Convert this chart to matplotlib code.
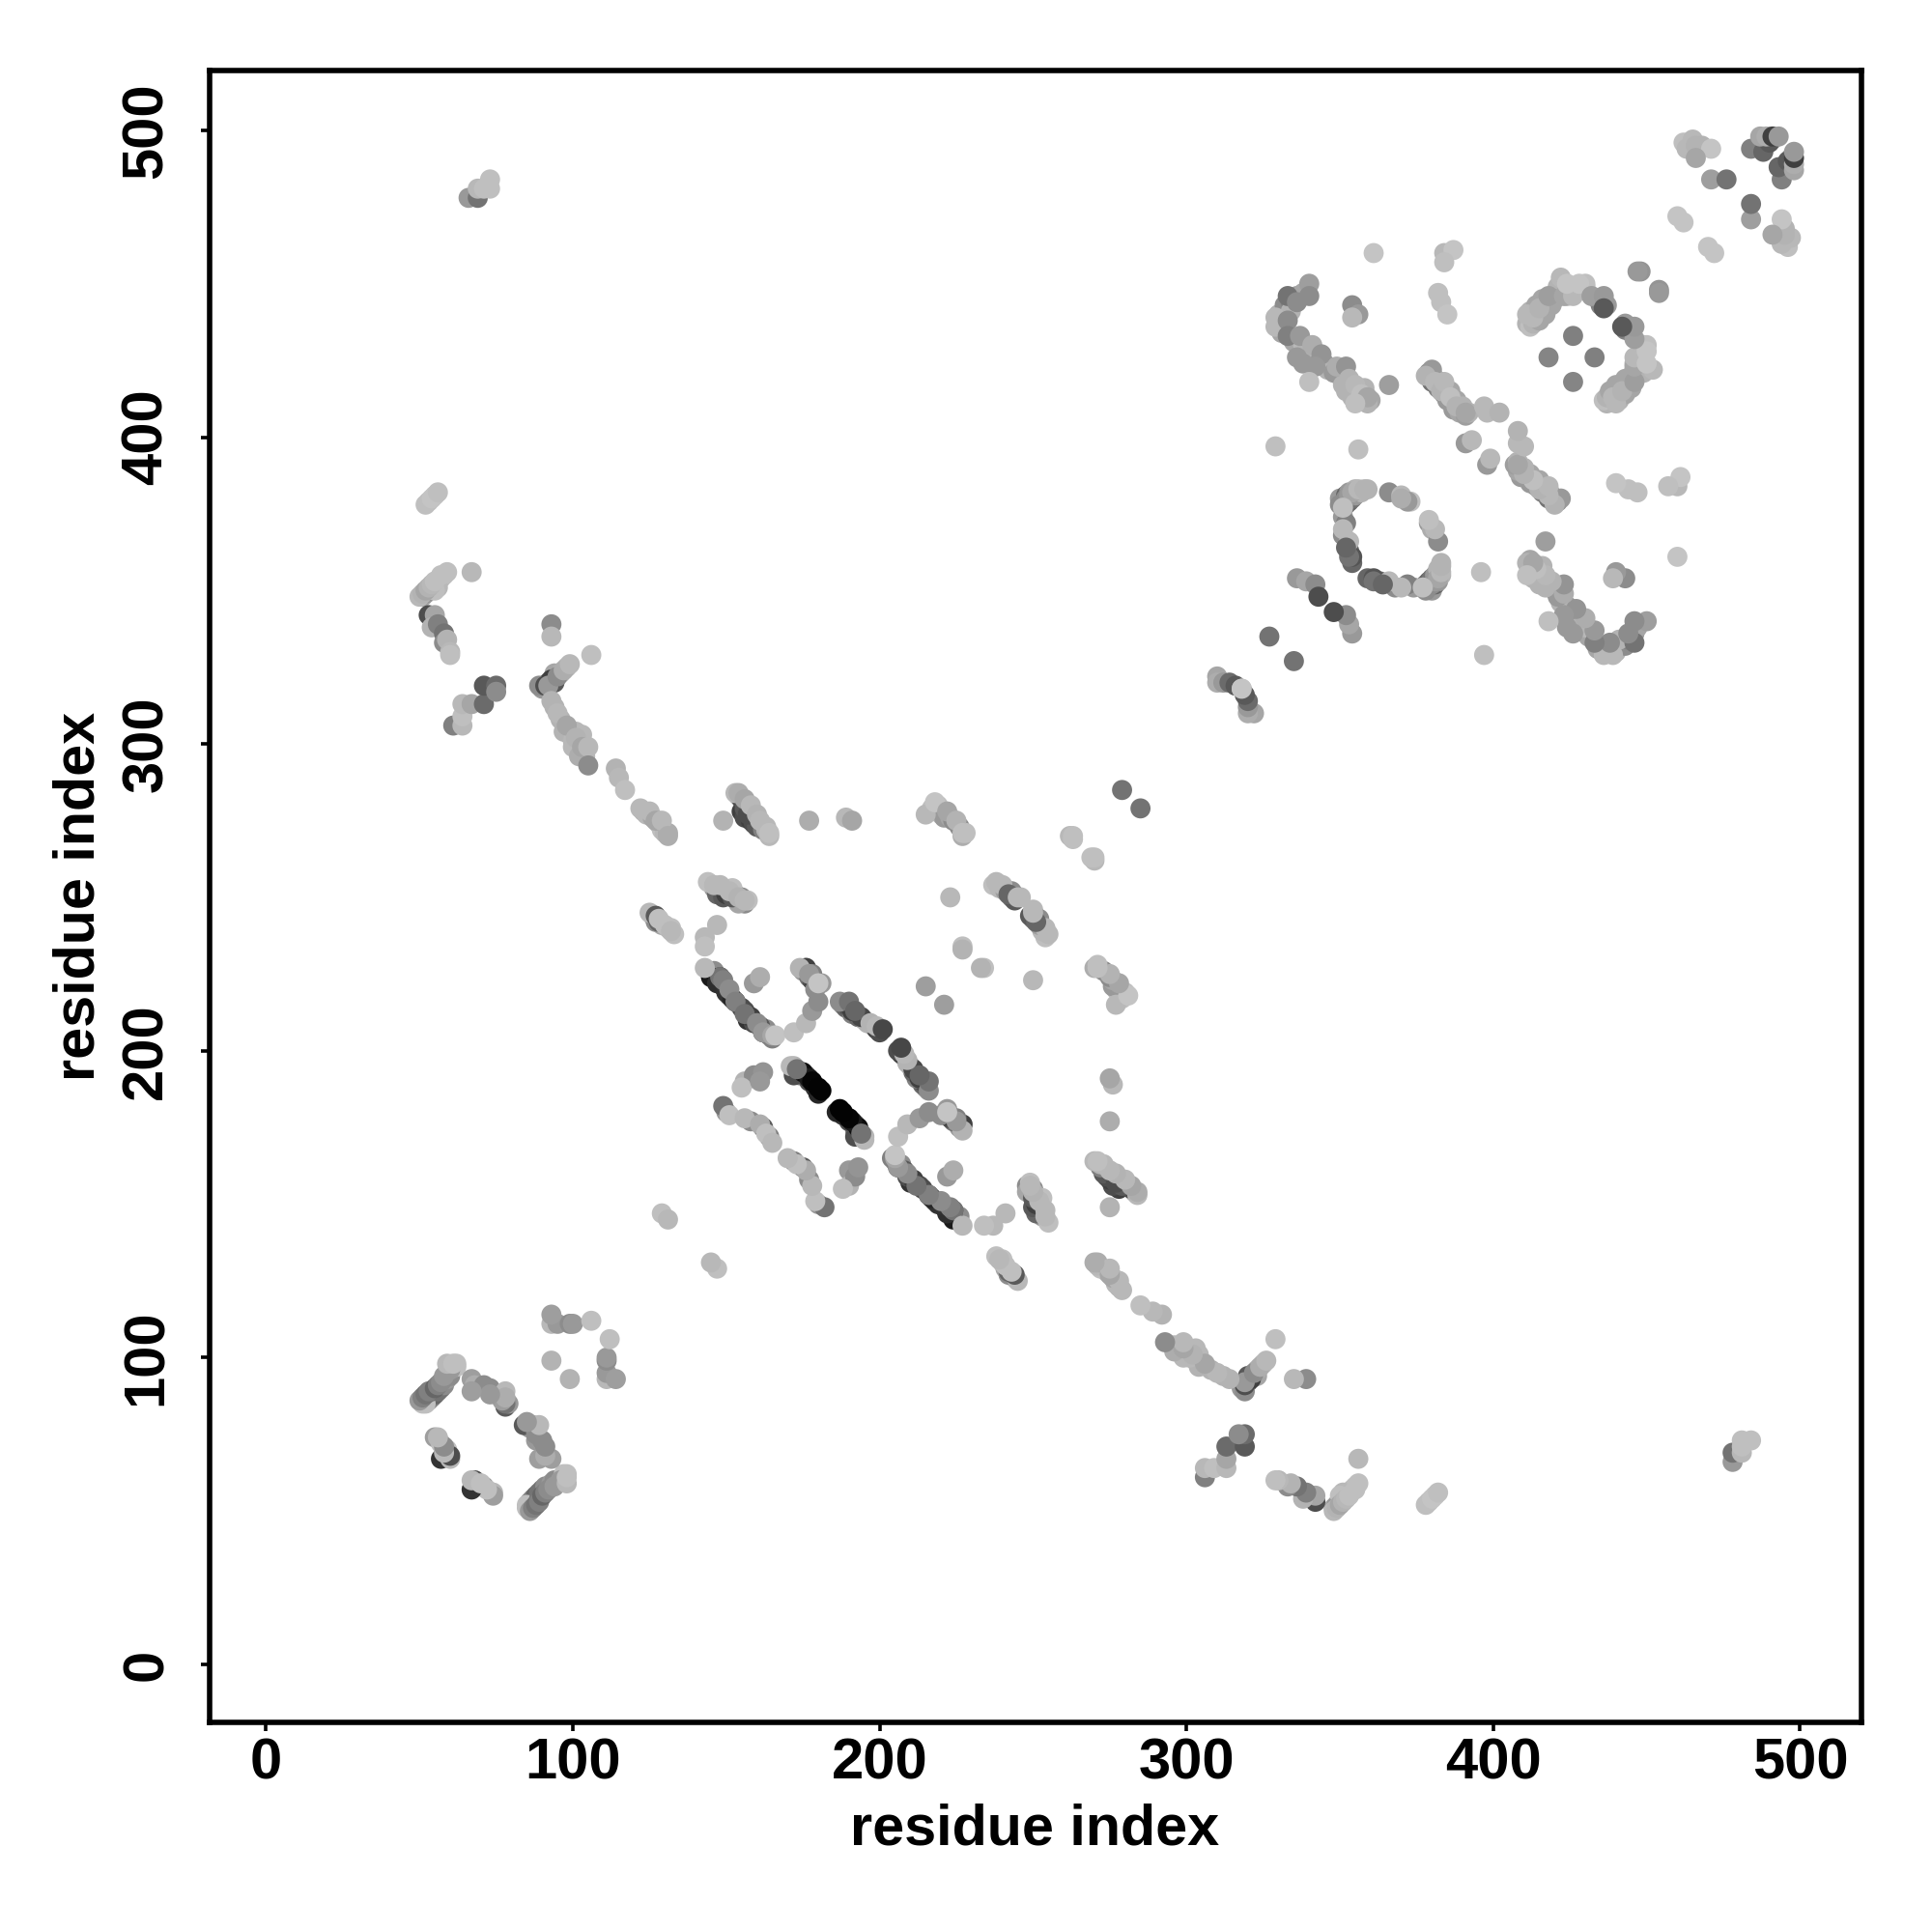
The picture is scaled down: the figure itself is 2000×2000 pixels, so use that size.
import numpy as np
import matplotlib
matplotlib.use("Agg")
import matplotlib.pyplot as plt

plt.rcParams['font.family'] = ['Liberation Sans', 'DejaVu Sans']

# contact pairs, one half only (the map is symmetric)
# rows line up between the three lists; rows drawn first end up underneath
res_a = [
    146, 148, 149, 151, 153, 156, 157, 159, 162, 164, 163, 165,
    175, 176, 177, 178, 179, 179, 181,
    188, 189, 190, 191, 193, 195, 196, 198, 199, 200,
    172, 173, 174, 176, 177, 178, 179, 180, 172,
    150, 158, 162, 164,
    154, 155, 156, 158, 159, 160, 162, 163, 164,
    217, 219, 220, 221, 223, 224, 226, 227, 228,
    237, 239, 241, 243, 244, 246, 243,
    146, 147, 149, 150, 153, 155, 156, 154, 157, 152,
    126, 127, 129, 131, 133, 128, 132,
    123, 124, 126, 128, 129, 130, 131,
    90, 92, 94, 94, 96, 98, 96, 94, 97, 99, 100, 103, 101, 104, 100,
    51, 53, 54, 55, 56, 57, 58, 59, 60, 60, 62, 62,
    51, 52, 53, 54, 55, 56, 57, 58, 56, 55,
    350, 351, 352, 352, 353, 353, 354, 355, 355, 357, 359, 351, 352, 351, 353, 354,
    330, 331, 332, 334, 336, 338, 334, 331, 335, 338, 339, 338,
    343, 345, 346, 348, 350, 351, 352, 354, 356, 358, 358, 360,
    379, 380, 381, 382, 383, 384, 385, 386, 387, 388, 389, 390, 391, 392,
    412, 414, 416, 420, 421, 425, 430, 434, 435, 437, 412, 414,
    411, 412, 413, 415, 417, 419, 420, 424, 427, 430,
    52, 50, 51, 52, 54, 53, 55, 56, 57, 58, 60, 59, 61,
    78, 67, 68, 71, 73, 75, 78, 79,
    55, 57, 57, 60, 59,
    68, 69, 71, 74,
    85, 86, 87, 88, 89, 93, 93, 95, 99, 100, 106, 93,
    66, 69, 69, 71, 73, 73,
    52, 53, 54, 55, 56,
    53, 55, 50, 51, 52, 53, 54, 55, 57, 59, 67, 54, 56, 58, 58, 59, 60, 60,
    61, 64, 64, 64, 67, 71, 71, 75, 75,
    93, 93, 106,
    89, 91, 93, 92, 95, 97, 99, 93, 95, 98, 101, 102, 103, 105, 105,
    114, 115, 117, 122, 125, 127, 129, 131,
    149, 155, 156, 157, 153, 154, 156, 158, 160, 161, 163, 164,
    177, 189, 191,
    215, 218, 222, 225, 227,
    262, 263, 263, 279,
    150, 152, 144, 146, 148, 151, 154, 156,
    125, 127, 128, 130, 132,
    147, 143, 143,
    238, 240, 242, 245,
    223, 227, 227, 215,
    145, 147, 150, 152, 155, 158, 161,
    148, 149, 151, 153, 156, 160, 162, 165, 143, 166,
    159, 161,
    172, 176, 178, 180,
    176, 178, 174, 177, 180,
    191, 194, 187, 190, 192, 197, 199, 201,
    175, 177, 178, 180, 181, 171, 173,
    156, 159, 162, 155,
    149, 151, 156, 161, 163, 165,
    129, 131, 190,
    310, 310, 312, 314, 316, 318,
    327,
    336, 339, 342, 343,
    351, 350, 352, 353, 354, 356, 358, 351, 354, 353, 353, 352,
    366, 370, 373, 379, 380,
    380, 378, 381, 383, 384, 386, 388, 391, 397, 398, 402, 391, 393,
    333, 336, 340, 329, 329, 333, 333, 337, 340, 341, 344, 336, 342, 340,
    349, 352, 353, 355, 357, 359, 359, 355,
    354, 356, 354, 361, 384, 387, 384, 382, 383, 385, 366, 329, 356,
    411, 413, 415, 418, 422, 423, 426, 424, 428, 432, 436, 436,
    426, 418,
    448, 447, 460, 462,
    462, 463, 465, 466, 468, 471, 466, 471, 476,
    484, 488, 491, 490, 487, 489, 491, 493,
]
res_b = [
    226, 224, 221, 218, 216, 213, 210, 209, 206, 205, 207, 204,
    226, 227, 224, 223, 222, 220, 222,
    215, 214, 214, 212, 211, 210, 209, 208, 207, 206,
    195, 193, 192, 192, 190, 190, 188, 186, 192,
    180, 177, 175, 172,
    283, 278, 276, 275, 274, 273, 272, 272, 270,
    279, 280, 277, 276, 276, 275, 273, 270, 271,
    254, 253, 252, 250, 249, 250, 252,
    253, 251, 250, 252, 251, 250, 248, 248, 249, 253,
    244, 242, 241, 240, 238, 242, 240,
    278, 277, 276, 274, 272, 271, 271,
    318, 320, 320, 323, 323, 325, 308, 312, 304, 303, 301, 303, 304, 296, 299,
    85, 86, 87, 88, 89, 90, 91, 93, 94, 97, 97, 98,
    348, 349, 350, 351, 352, 353, 354, 355, 351, 350,
    380, 378, 378, 381, 379, 382, 380, 381, 383, 382, 383, 374, 372, 368, 363, 359,
    440, 437, 443, 444, 446, 447, 441, 434, 431, 430, 428, 424,
    424, 424, 422, 421, 420, 417, 415, 413, 415, 412, 416, 412,
    421, 418, 419, 416, 418, 414, 412, 415, 409, 412, 408, 410, 407, 408,
    441, 443, 445, 446, 449, 448, 449, 445, 443, 443, 439, 440,
    437, 436, 437, 438, 440, 443, 445, 446, 448, 450,
    85, 86, 87, 88, 89, 89, 90, 91, 92, 94, 96, 98, 98,
    84, 93, 91, 91, 90, 88, 89, 85,
    74, 72, 67, 67, 70,
    60, 58, 58, 56,
    78, 77, 78, 73, 67, 99, 111, 111, 111, 111, 112, 114,
    478, 478, 481, 481, 481, 484,
    378, 379, 380, 381, 382,
    342, 342, 348, 349, 350, 351, 352, 353, 355, 356, 356, 338, 339, 336, 333, 334, 330, 329,
    306, 306, 309, 313, 313, 313, 319, 319, 317,
    339, 335, 329,
    319, 319, 321, 319, 322, 324, 326, 314, 310, 306, 302, 296, 299, 299, 293,
    292, 289, 285, 279, 278, 275, 275, 270,
    275, 282, 279, 277, 284, 284, 282, 280, 277, 275, 273, 271,
    275, 276, 275,
    277, 281, 278, 275, 271,
    270, 269, 270, 285,
    251, 250, 255, 254, 254, 252, 250, 249,
    245, 244, 243, 241, 239,
    241, 237, 234,
    255, 254, 251, 250,
    250, 234, 233, 221,
    224, 222, 219, 217, 214, 211, 208,
    224, 223, 220, 216, 212, 209, 206, 205, 227, 205,
    222, 224,
    206, 209, 213, 216,
    227, 225, 227, 225, 222,
    213, 211, 216, 216, 213, 209, 208, 207,
    193, 191, 190, 188, 187, 195, 194,
    190, 192, 193, 188,
    182, 179, 178, 176, 173, 170,
    147, 145, 161,
    322, 320, 320, 320, 319, 318,
    335,
    354, 353, 352, 348,
    370, 378, 380, 381, 382, 383, 383, 377, 361, 361, 366, 364,
    382, 381, 379, 372, 370,
    422, 420, 418, 415, 418, 413, 410, 408, 410, 408, 408, 398, 399,
    446, 444, 450, 439, 436, 438, 433, 433, 446, 430, 427, 426, 423, 418,
    423, 423, 419, 417, 414, 411, 413, 411,
    443, 440, 439, 460, 460, 461, 457, 447, 444, 440, 417, 397, 396,
    440, 439, 442, 446, 452, 446, 446, 450, 450, 446, 446, 442,
    433, 426,
    454, 454, 472, 470,
    496, 494, 497, 495, 495, 494, 491, 484, 484,
    494, 493, 497, 496, 498, 498, 498, 498,
]
grey = [
    .55, .3, .1, .2, .1, .3, .2, .3, .3, .4, .55, .5,
    .6, .7, .45, .3, .2, .55, .6,
    .55, .4, .3, .5, .4, .65, .7, .7, .25, .3,
    .7, .4, .5, .35, .3, .3, .2, .15, .3,
    .6, .55, .35, .5,
    .72, .25, .3, .25, .3, .35, .5, .7, .72,
    .75, .75, .72, .6, .65, .55, .55, .68, .75,
    .75, .72, .62, .45, .35, .72, .55,
    .6, .4, .35, .72, .7, .55, .55, .65, .75, .75,
    .72, .55, .65, .72, .75, .4, .75,
    .7, .72, .65, .72, .75, .72, .68,
    .6, .3, .35, .65, .7, .72, .7, .7, .7, .7, .72, .72, .72, .72, .72,
    .75, .6, .5, .4, .45, .45, .55, .6, .55, .72, .75, .75,
    .65, .6, .5, .6, .65, .7, .72, .75, .72, .75,
    .6, .55, .5, .4, .4, .6, .45, .6, .7, .7, .7, .6, .5, .55, .4, .4,
    .7, .72, .55, .5, .6, .65, .7, .65, .65, .72, .7, .6,
    .6, .6, .7, .6, .6, .7, .7, .7, .7, .65, .7, .65,
    .55, .45, .6, .5, .6, .5, .6, .65, .6, .65, .65, .7, .62, .7,
    .7, .65, .65, .65, .7, .72, .72, .55, .5, .6, .72, .7,
    .7, .75, .7, .65, .65, .65, .65, .7, .72, .75,
    .75, .6, .5, .45, .45, .5, .4, .5, .55, .6, .6, .72, .75,
    .35, .62, .68, .55, .55, .55, .72, .6,
    .62, .75, .2, .72, .75,
    .3, .72, .55, .72,
    .45, .62, .68, .6, .62, .7, .72, .6, .55, .6, .75, .62,
    .6, .45, .72, .75, .75, .75,
    .75, .75, .77, .77, .75,
    .3, .65, .72, .7, .65, .7, .72, .75, .75, .75, .72, .7, .5, .45, .55, .7, .72, .75,
    .5, .72, .75, .72, .65, .42, .35, .42, .55,
    .55, .72, .75,
    .55, .3, .25, .6, .55, .68, .72, .7, .72, .65, .7, .68, .65, .72, .55,
    .7, .72, .75, .72, .72, .65, .72, .68,
    .7, .3, .35, .3, .72, .68, .65, .72, .7, .72, .72, .75,
    .68, .72, .65,
    .72, .77, .65, .7, .75,
    .72, .75, .75, .45,
    .25, .35, .75, .72, .72, .72, .7, .72,
    .72, .35, .75, .75, .72,
    .72, .72, .75,
    .72, .72, .4, .72,
    .72, .75, .7, .62,
    .1, .18, .2, .15, .3, .25, .35,
    .45, .5, .55, .5, .45, .55, .6, .65, .72, .77,
    .6, .68,
    .75, .72, .6, .55,
    .25, .5, .7, .6, .77,
    .25, .28, .55, .45, .4, .7, .72, .28,
    .05, .1, .02, .01, .01, .72, .45,
    .7, .55, .58, .75,
    .45, .75, .72, .68, .75, .72,
    .75, .72, .6,
    .65, .68, .6, .42, .35, .77,
    .45,
    .6, .65, .55, .3,
    .72, .55, .55, .6, .65, .72, .7, .75, .33, .45, .72, .4,
    .55, .72, .75, .6, .68,
    .6, .7, .72, .7, .72, .75, .7, .65, .72, .72, .7, .6, .72,
    .45, .55, .62, .72, .72, .55, .5, .6, .55, .68, .58, .6, .6, .75,
    .68, .58, .7, .72, .75, .7, .65, .75,
    .55, .6, .72, .77, .72, .77, .75, .75, .75, .77, .62, .75, .75,
    .72, .72, .7, .62, .72, .65, .72, .77, .77, .62, .6, .35,
    .5, .52,
    .58, .6, .77, .77,
    .75, .72, .72, .7, .7, .77, .65, .62, .45,
    .5, .4, .65, .35, .65, .68, .25, .6,
]

x = np.array(res_a + res_b)
y = np.array(res_b + res_a)
shade = [str(g) for g in grey + grey]

fig = plt.figure(figsize=(10, 10), dpi=200)
ax = fig.add_axes([0.1085, 0.1085, 0.855, 0.855])
ax.scatter(x, y, c=shade, s=56, linewidths=0)

ax.set_xlim(-18.4, 520)
ax.set_ylim(-18.9, 519.5)
ax.set_xticks([0, 100, 200, 300, 400, 500])
ax.set_yticks([0, 100, 200, 300, 400, 500])
ax.tick_params(axis='both', length=3.4, width=1.3, labelsize=21.5)
ax.tick_params(axis='x', pad=2)
ax.tick_params(axis='y', pad=10)
for lab in ax.get_xticklabels() + ax.get_yticklabels():
    lab.set_fontweight('bold')
for lab in ax.get_yticklabels():
    lab.set_rotation(90)
    lab.set_va('center')
for side in ax.spines.values():
    side.set_linewidth(2.0)

ax.set_xlabel("residue index", fontsize=21.4, fontweight='bold', va='center')
ax.set_ylabel("residue index", fontsize=21.4, fontweight='bold', va='center')
ax.xaxis.set_label_coords(0.4994, -0.065)
ax.yaxis.set_label_coords(-0.079, 0.5)

fig.savefig("out.png", dpi=200)
